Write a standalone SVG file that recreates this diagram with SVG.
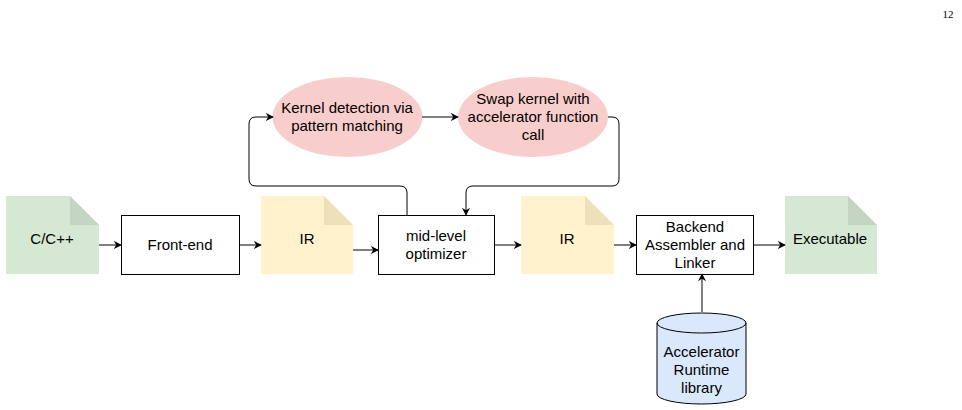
<svg xmlns="http://www.w3.org/2000/svg" width="962" height="410" viewBox="0 0 962 410">
<defs>
<marker id="ah" viewBox="0 0 10 10" refX="9" refY="5" markerWidth="8" markerHeight="8" orient="auto" markerUnits="userSpaceOnUse"><path d="M0,0 L10,5 L0,10 L3,5 Z" fill="#000"/></marker>
<style>
text{font-family:"Liberation Sans",Arial,sans-serif;font-size:15px;fill:#000;text-anchor:middle}
.box{fill:#fff;stroke:#000;stroke-width:1}
.c{fill:none;stroke:#000;stroke-width:1;marker-end:url(#ah)}
</style>
</defs>
<text x="948" y="18" style="font-family:'Liberation Serif',serif;font-size:11px">12</text>
<g id="cpp"><path d="M6,196 H70 L99,225 V274 H6 Z" fill="#d5e8d4"/><path d="M70,196 V225 H99 Z" fill="#c4d6c3"/><text x="52" y="244">C/C++</text></g>
<g id="frontend"><rect class="box" x="121.5" y="215.5" width="118" height="59"/><text x="180" y="250">Front-end</text></g>
<g id="ir1"><path d="M261,196 H324 L353,225 V274 H261 Z" fill="#fff2cc"/><path d="M324,196 V225 H353 Z" fill="#ede0bb"/><text x="307" y="244">IR</text></g>
<g id="mid"><rect class="box" x="378.5" y="215.5" width="116" height="59"/><text x="436" y="241">mid-level</text><text x="436" y="259">optimizer</text></g>
<g id="ir2"><path d="M521,196 H585 L614,225 V274 H521 Z" fill="#fff2cc"/><path d="M585,196 V225 H614 Z" fill="#ede0bb"/><text x="567" y="244">IR</text></g>
<g id="backend"><rect class="box" x="636.5" y="215.5" width="117" height="59"/><text x="695" y="232">Backend</text><text x="695" y="250">Assembler and</text><text x="695" y="268">Linker</text></g>
<g id="exe"><path d="M785,196 H848 L877,225 V274 H785 Z" fill="#d5e8d4"/><path d="M848,196 V225 H877 Z" fill="#c4d6c3"/><text x="830" y="244">Executable</text></g>
<g id="detect"><ellipse cx="347.5" cy="117" rx="75" ry="40" fill="#f8cecc"/><text x="347" y="113">Kernel detection via</text><text x="347" y="131">pattern matching</text></g>
<g id="swap"><ellipse cx="533" cy="117" rx="75" ry="40" fill="#f8cecc"/><text x="533" y="104">Swap kernel with</text><text x="533" y="122">accelerator function</text><text x="533" y="140">call</text></g>
<g id="lib"><path d="M657,323 A44.5,10 0 0 1 746,323 V394 A44.5,10 0 0 1 657,394 Z" fill="#dae8fc" stroke="#000"/><path d="M657,323 A44.5,10 0 0 0 746,323" fill="none" stroke="#000"/><text x="701.5" y="357">Accelerator</text><text x="701.5" y="375">Runtime</text><text x="701.5" y="393">library</text></g>
<g id="connectors">
<path class="c" d="M99,245 H121"/>
<path class="c" d="M239,245 H261"/>
<path class="c" d="M353,250 H378"/>
<path class="c" d="M494,245 H521"/>
<path class="c" d="M614,245 H636"/>
<path class="c" d="M753,245 H785"/>
<path class="c" d="M702,312 V274"/>
<path class="c" d="M422,117 H458"/>
<path class="c" d="M407,215 V193 Q407,186 400,186 H256 Q249,186 249,179 V124 Q249,117 256,117 H273"/>
<path class="c" d="M608,117 H612 Q619,117 619,124 V179 Q619,186 612,186 H473 Q466,186 466,193 V215"/>
</g>
</svg>
